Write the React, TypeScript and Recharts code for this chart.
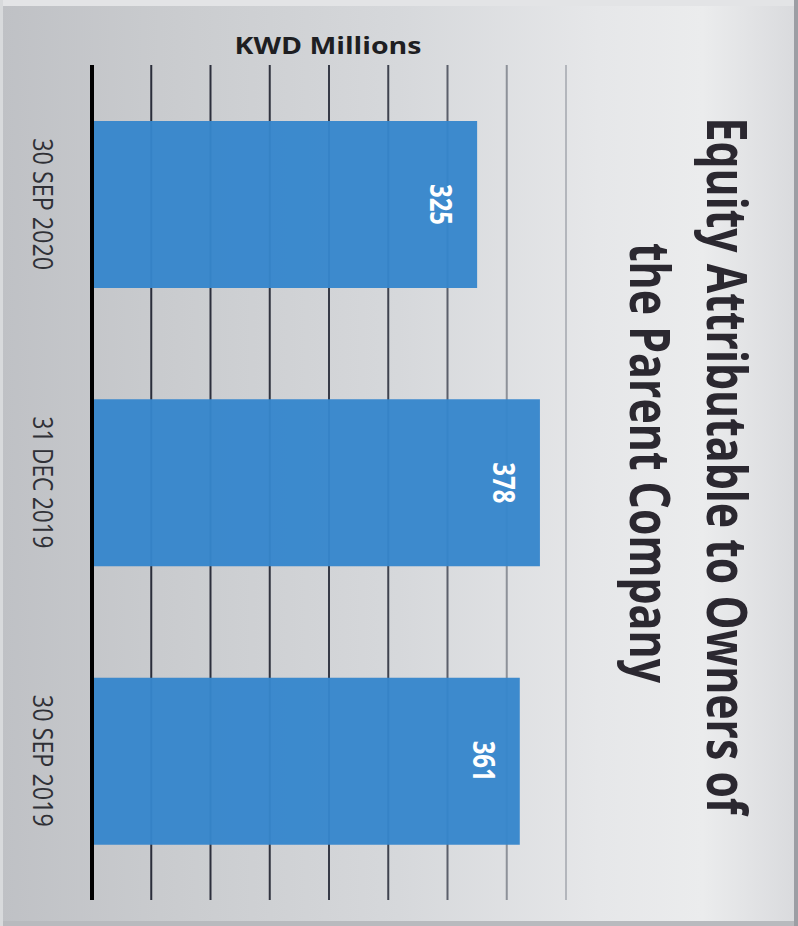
import { BarChart, Bar, XAxis, YAxis, CartesianGrid, LabelList } from 'recharts'

const periods = ['30 SEP 2020', '31 DEC 2019', '30 SEP 2019']
const equity = [325, 378, 361]
const valueTicks = [0, 50, 100, 150, 200, 250, 300, 350, 400]
const titleLines = ['Equity Attributable to Owners of', 'the Parent Company']
const unitLabel = 'KWD Millions'

const rows = periods.map((period, i) => ({ period, equity: equity[i] }))

const FONT = '"Open Sans", "Noto Sans", sans-serif'
const BAR_BLUE = '#3686cc'
const INK = '#2b2830'
// the source is a narrow font, so text is squeezed horizontally
const SQUEEZE = 0.67
// gridlines fade out toward the lighter right side of the photo
const gridShade = ['none', '#2a2d3a', '#2c2f3c', '#30333f', '#363a47', '#3f434f', '#5b5f6a', '#8d9199', '#b3b6bc']

function PeriodTick(props: any) {
  const { y, payload } = props
  return (
    <text
      transform={`translate(33, ${y}) rotate(90)`}
      textAnchor="middle"
      fontFamily={FONT}
      fontSize={28}
      fill="#2f3036"
      textLength={132}
      lengthAdjust="spacingAndGlyphs"
    >
      {payload.value}
    </text>
  )
}

function ValueLabel(props: any) {
  const { x, y, width, height, value } = props
  return (
    <text
      transform={`translate(${x + width - 47}, ${y + height / 2}) rotate(90)`}
      textAnchor="middle"
      fontFamily={FONT}
      fontWeight={700}
      fontSize={31}
      fill="#ffffff"
      textLength={41}
      lengthAdjust="spacingAndGlyphs"
    >
      {value}
    </text>
  )
}

function GridLine(props: any) {
  const { x1, y1, x2, y2, index } = props
  if (!index) return <g key={`grid-${index}`} />
  return (
    <line
      key={`grid-${index}`}
      x1={x1}
      y1={y1}
      x2={x2}
      y2={y2}
      stroke={gridShade[index] || '#888'}
      strokeWidth={2}
    />
  )
}

function TitleLine({ x, y, length, text }: { x: number; y: number; length: number; text: string }) {
  return (
    <text
      transform={`translate(${x}, ${y}) rotate(90) scale(${SQUEEZE}, 1)`}
      textAnchor="middle"
      fontFamily={FONT}
      fontWeight={700}
      fontSize={56}
      fill={INK}
      textLength={length / SQUEEZE}
      lengthAdjust="spacingAndGlyphs"
    >
      {text}
    </text>
  )
}

export default function App() {
  return (
    <div
      style={{
        position: 'absolute',
        left: 0,
        top: 0,
        width: 798,
        height: 926,
        overflow: 'hidden',
        background: 'linear-gradient(to right, #bfc1c5 0%, #c9cbce 20%, #d6d8db 50%, #e6e7e9 75%, #ebeced 88%, #d9dadd 100%)',
        boxShadow: 'inset 3px 0 0 #d8dadc, inset -4px 0 0 #9c9ea4, inset 0 6px 0 #e3e4e6, inset 0 -5px 0 #b8babe',
      }}
    >
      <BarChart
        width={798}
        height={926}
        data={rows}
        layout="vertical"
        margin={{ top: 65, right: 232, bottom: 26, left: 0 }}
        barSize={167}
      >
        <CartesianGrid horizontal={false} vertical={GridLine} />
        <XAxis type="number" domain={[0, 400]} ticks={valueTicks} hide />
        <YAxis
          type="category"
          dataKey="period"
          width={92}
          axisLine={{ stroke: '#000000', strokeWidth: 4 }}
          tickLine={false}
          tick={<PeriodTick />}
        />
        <Bar dataKey="equity" fill={BAR_BLUE} fillOpacity={0.96} isAnimationActive={false}>
          <LabelList dataKey="equity" content={<ValueLabel />} />
        </Bar>
      </BarChart>
      <svg width={798} height={926} style={{ position: 'absolute', left: 0, top: 0, pointerEvents: 'none' }}>
        <text
          x={328}
          y={54}
          textAnchor="middle"
          fontFamily={FONT}
          fontWeight={700}
          fontSize={24}
          fill="#1e1e22"
          textLength={187}
          lengthAdjust="spacingAndGlyphs"
        >
          {unitLabel}
        </text>
        <TitleLine x={707} y={466} length={697} text={titleLines[0]} />
        <TitleLine x={630} y={463} length={440} text={titleLines[1]} />
      </svg>
    </div>
  )
}
